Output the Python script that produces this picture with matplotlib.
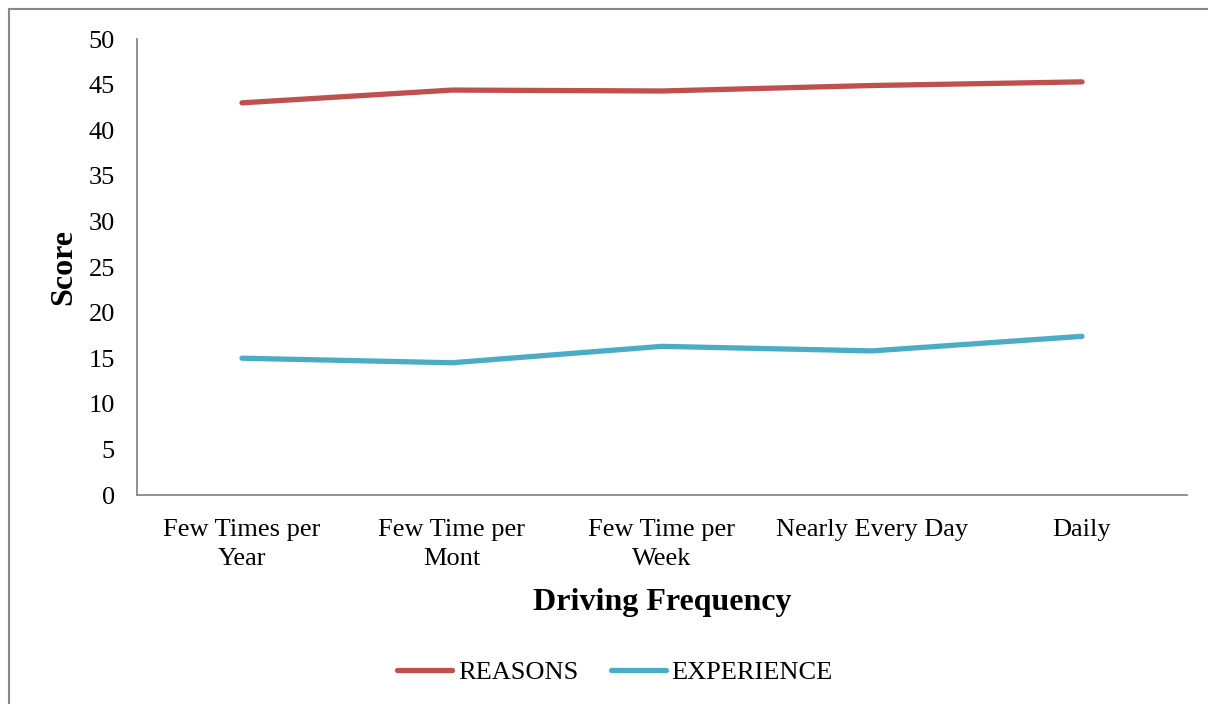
import matplotlib

matplotlib.use("Agg")
import matplotlib.pyplot as plt
from matplotlib.patches import Rectangle

categories = ["Few Times per\nYear", "Few Time per\nMont", "Few Time per\nWeek", "Nearly Every Day", "Daily"]
reasons = [43.0, 44.4, 44.3, 44.9, 45.3]
experience = [15.0, 14.5, 16.3, 15.8, 17.4]
yticks = list(range(0, 51, 5))

plt.rcParams["font.family"] = ["Liberation Serif", "DejaVu Serif"]

fig = plt.figure(figsize=(12.08, 7.04), dpi=100)
ax = fig.add_axes([137 / 1208, 1 - 495 / 704, (1187 - 137) / 1208, (495 - 39) / 704])

x = range(len(categories))
ax.plot(x, reasons, color="#C0504D", lw=3.8, solid_capstyle="round", label="REASONS")
ax.plot(x, experience, color="#4BACC6", lw=3.8, solid_capstyle="round", label="EXPERIENCE")

ax.set_xlim(-0.5, len(categories) - 0.5)
ax.set_ylim(0, 50)
ax.set_yticks(yticks)
ax.set_xticks(list(x))
ax.set_xticklabels(categories, fontsize=19, linespacing=1.45)
ax.tick_params(axis="both", length=0, labelsize=19)
ax.tick_params(axis="y", pad=16)
ax.tick_params(axis="x", pad=17)

for s in ("top", "right"):
    ax.spines[s].set_visible(False)
for s in ("left", "bottom"):
    ax.spines[s].set_color("#888888")
    ax.spines[s].set_linewidth(1.3)

ax.set_ylabel("Score", fontsize=23, fontweight="bold", labelpad=7)
ax.set_xlabel("Driving Frequency", fontsize=23, fontweight="bold", labelpad=13)

fig.legend(loc="center", bbox_to_anchor=(615 / 1208, 1 - 672 / 704), ncol=2, frameon=False,
           fontsize=19, handlelength=2.1, handletextpad=0.2, columnspacing=1.25)

# outer frame around the chart area
fig.patches.append(Rectangle((9 / 1208, -0.01), 1.1, 1 - 9 / 704 + 0.01, transform=fig.transFigure,
                             fill=False, edgecolor="#888888", lw=1.5))

fig.savefig("out.png", dpi=100)
